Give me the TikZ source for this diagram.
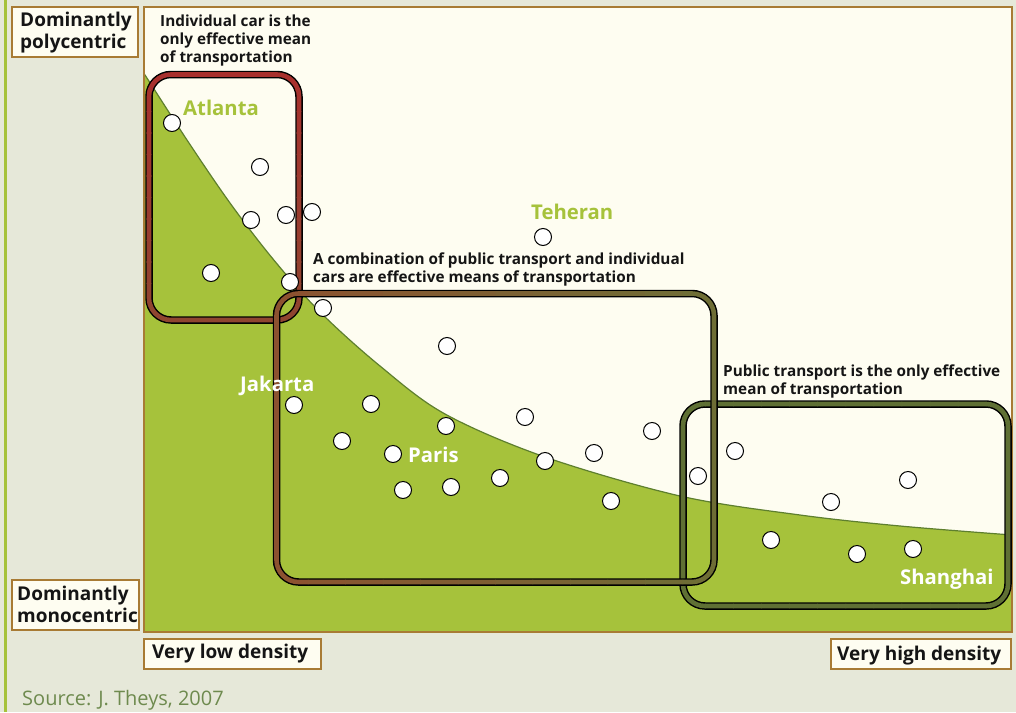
\documentclass[tikz,border=0pt]{standalone}
\usepackage{fontspec}
\setmainfont{Open Sans}
\definecolor{bgc}{HTML}{E6E8D9}
\definecolor{creamc}{HTML}{FEFDF1}
\definecolor{greenc}{HTML}{A6C23B}
\definecolor{curvec}{HTML}{5E7F2E}
\definecolor{framec}{HTML}{A87B34}
\definecolor{redc}{HTML}{A8302D}
\definecolor{redb}{HTML}{8F4530}
\definecolor{brownc}{HTML}{8C5230}
\definecolor{brownr}{HTML}{6E6D35}
\definecolor{olivec}{HTML}{5F7034}
\definecolor{txtc}{HTML}{151515}
\definecolor{srcc}{HTML}{6E8A4E}
\tikzset{
  dot/.style={circle, fill=white, draw=black, line width=1pt, minimum size=17pt, inner sep=0pt},
  lab/.style={draw=framec, line width=2.4pt, fill=creamc},
  labtext/.style={font=\bfseries\fontsize{19}{21.5}\selectfont, text=txtc, inner sep=0pt, align=left},
  note/.style={font=\bfseries\fontsize{15.3}{17.7}\selectfont, text=txtc, inner sep=0pt, align=left},
  cityg/.style={font=\bfseries\fontsize{20.3}{22}\selectfont, text=greenc, inner sep=0pt},
  cityw/.style={font=\bfseries\fontsize{20.3}{22}\selectfont, text=white, inner sep=0pt},
  ringblack/.style={draw=black, line width=7.5pt, rounded corners=22pt},
  ringcol/.style={line width=4.6pt, rounded corners=22pt},
}
% horizontal gradient box: x1,y1,x2,y2,colorA,colorB
\newcommand\ringboxh[6]{%
  \draw[ringblack] (#1,#2) rectangle (#3,#4);
  \foreach \k in {0,...,11}{%
    \pgfmathsetmacro\xa{#1-6+\k*(#3-#1+12)/12}%
    \pgfmathsetmacro\xb{#1-6+(\k+1)*(#3-#1+12)/12+0.5}%
    \pgfmathtruncatemacro\pc{100-\k*100/11}%
    \begin{scope}
      \clip (\xa,{#2-8}) rectangle (\xb,{#4+8});
      \draw[ringcol, draw=#5!\pc!#6] (#1,#2) rectangle (#3,#4);
    \end{scope}}}
% vertical gradient box
\newcommand\ringboxv[6]{%
  \draw[ringblack] (#1,#2) rectangle (#3,#4);
  \foreach \k in {0,...,11}{%
    \pgfmathsetmacro\ya{#2-6+\k*(#4-#2+12)/12}%
    \pgfmathsetmacro\yb{#2-6+(\k+1)*(#4-#2+12)/12+0.5}%
    \pgfmathtruncatemacro\pc{100-\k*100/11}%
    \begin{scope}
      \clip ({#1-8},\ya) rectangle ({#3+8},\yb);
      \draw[ringcol, draw=#5!\pc!#6] (#1,#2) rectangle (#3,#4);
    \end{scope}}}
\def\curvepts{(135,60) (145,75) (187,140) (230,203) (273,259) (320,312) (380,366) (445,414) (545,457) (680,496) (800,515) (900,526) (1012,535)}
\begin{document}
\begin{tikzpicture}[x=1pt, y=-1pt]
\useasboundingbox (0,0) rectangle (1016,712);
\fill[bgc] (0,0) rectangle (1016,712);
\draw[greenc, line width=2.7pt] (5.3,0) -- (5.3,712);
% chart area
\fill[creamc] (144,7) rectangle (1012,632);
\begin{scope}
  \clip (144,7) rectangle (1012,632);
  \fill[greenc] plot[smooth, tension=0.55] coordinates {\curvepts} -- (1012,640) -- (135,640) -- cycle;
  \draw[curvec, line width=1.2pt] plot[smooth, tension=0.55] coordinates {\curvepts};
\end{scope}
\draw[framec, line width=2pt] (144,7) rectangle (1012,632);
% labels
\draw[lab] (12,7) rectangle (138,57);
\node[labtext, anchor=north west] (poly) at (20,12) {Dominantly\\polycentric};
\draw[lab] (12,580) rectangle (139,630);
\node[labtext, anchor=north west] (mono) at (17,586) {Dominantly\\monocentric};
\draw[lab] (144,639) rectangle (321,669);
\node[labtext, anchor=base west] (low) at (152,658) {Very low density};
\draw[lab] (831,639) rectangle (1011,669);
\node[labtext, anchor=base west] (high) at (837,660) {Very high density};
\node[anchor=base west, inner sep=0pt, font=\fontsize{20}{22}\selectfont, text=srcc] (src) at (22,705) {Source: J. Theys, 2007};
% boxes
\ringboxv{149}{74.5}{299}{320}{redc}{redb}
\ringboxh{683}{404}{1008}{606}{olivec}{olivec}
\ringboxh{276.5}{293.5}{714}{582}{brownc}{brownr}
% annotations
\node[note, anchor=north west] (n1) at (160,15) {Individual car is the\\only effective mean\\of transportation};
\node[note, anchor=north west] (n2) at (313,253) {A combination of public transport and individual\\cars are effective means of transportation};
\node[note, anchor=north west] (n3) at (723,365) {Public transport is the only effective\\mean of transportation};
% dots
\foreach \i/\p in {1/{172,123},2/{260,167},3/{251,220},4/{286,215},5/{312,212},6/{211,273},7/{290,282},8/{323,308},9/{543,237},10/{447,346},11/{294,405},12/{371,404},13/{446,426},14/{525,417},15/{342,441},16/{393,454},17/{545,461},18/{594,453},19/{652,431},20/{403,490},21/{451,487},22/{500,478},23/{611,501},24/{698,476},25/{735,451},26/{831,502},27/{908,480},28/{771,540},29/{857,554},30/{913,549}}
  \node[dot] (d\i) at (\p) {};
% cities
\node[cityg, anchor=base west] (atl) at (183,115) {Atlanta};
\node[cityg, anchor=base west] (teh) at (531,219) {Teheran};
\node[cityw, anchor=base west] (jak) at (240,391) {Jakarta};
\node[cityw, anchor=base west] (par) at (408,462) {Paris};
\node[cityw, anchor=base west] (sha) at (900,584) {Shanghai};
\end{tikzpicture}
\end{document}
